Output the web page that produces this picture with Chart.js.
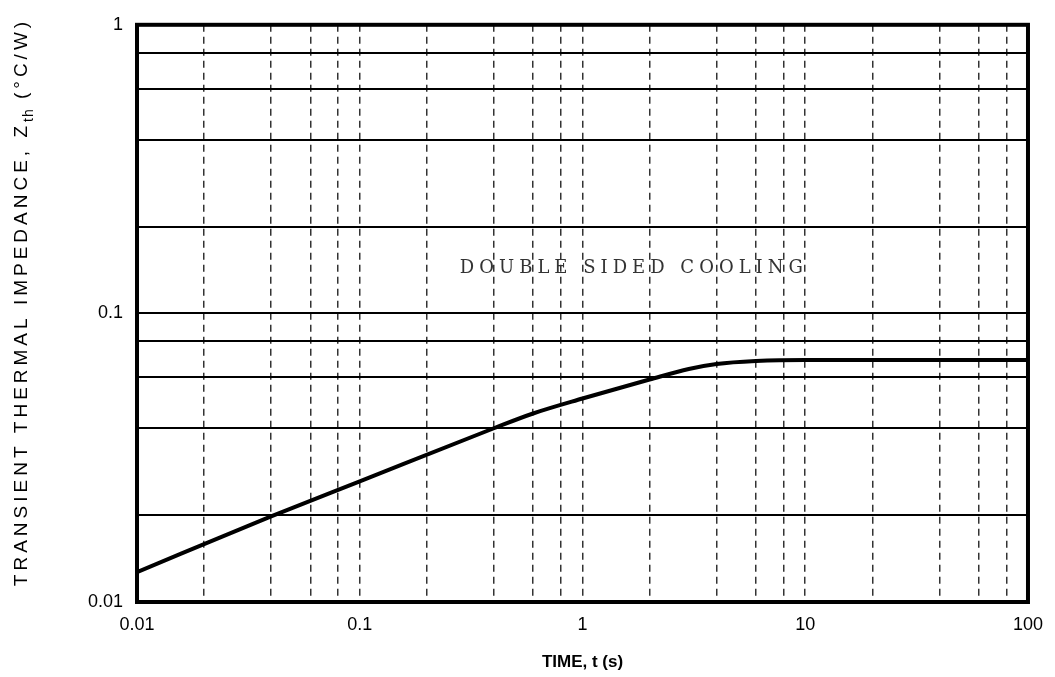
<!DOCTYPE html>
<html>
<head>
<meta charset="utf-8">
<script src="https://cdn.jsdelivr.net/npm/chart.js@4/dist/chart.umd.min.js"></script>
<style>
  html, body { margin: 0; padding: 0; background: #fff; }
  #wrap { width: 1055px; height: 677px; }
</style>
</head>
<body>
<div id="wrap"><canvas id="zth_chart"></canvas></div>
<script>
// time (s) and transient thermal impedance (°C/W)
const times = [0.01, 0.04, 0.1, 0.4, 0.6, 1, 2, 3, 4, 6, 10, 20, 100];
const zth = [0.0127, 0.0198, 0.0262, 0.0400, 0.0450, 0.0507, 0.0590, 0.0642, 0.0668, 0.0684, 0.0690, 0.0690, 0.0690];

// grid positions and labelled ticks
const x_grid = [0.01, 0.02, 0.04, 0.06, 0.08, 0.1, 0.2, 0.4, 0.6, 0.8, 1, 2, 4, 6, 8, 10, 20, 40, 60, 80, 100];
const y_grid = [0.01, 0.02, 0.04, 0.06, 0.08, 0.1, 0.2, 0.4, 0.6, 0.8, 1];
const x_labels = { 0.01: "0.01", 0.1: "0.1", 1: "1", 10: "10", 100: "100" };
const y_labels = { 0.01: "0.01", 0.1: "0.1", 1: "1" };

const note_text = "DOUBLE SIDED COOLING";
const note_pos = { x: 1.7, y: 0.143 };

const frame_plugin = {
    id: "frame",
    afterDraw(chart) {
        const ctx = chart.ctx;
        const a = chart.chartArea;
        ctx.save();
        ctx.strokeStyle = "#000";
        ctx.lineWidth = 4;
        ctx.strokeRect(a.left, a.top, a.right - a.left, a.bottom - a.top);

        // note inside the plot
        const xs = chart.scales.x, ys = chart.scales.y;
        ctx.fillStyle = "#333";
        ctx.font = "18px 'DejaVu Serif', serif";
        ctx.letterSpacing = "5px";
        ctx.textAlign = "center";
        ctx.textBaseline = "middle";
        ctx.fillText(note_text, xs.getPixelForValue(note_pos.x), ys.getPixelForValue(note_pos.y));

        // y axis title with subscript
        ctx.translate(22, 302);
        ctx.rotate(-Math.PI / 2);
        ctx.fillStyle = "#000";
        ctx.textAlign = "left";
        const big = "19px 'Liberation Sans', Arial, sans-serif";
        const small = "14px 'Liberation Sans', Arial, sans-serif";
        const p1 = "TRANSIENT THERMAL IMPEDANCE, Z", p2 = "th", p3 = " (°C/W)";
        ctx.letterSpacing = "4px";
        ctx.font = big;
        const w1 = ctx.measureText(p1).width, w3 = ctx.measureText(p3).width;
        ctx.letterSpacing = "1px";
        ctx.font = small;
        const w2 = ctx.measureText(p2).width;
        let x0 = -(w1 + w2 + w3) / 2;
        ctx.fillText(p2, x0 + w1, 7);
        ctx.letterSpacing = "4px";
        ctx.font = big;
        ctx.fillText(p1, x0, 0);
        ctx.fillText(p3, x0 + w1 + w2, 0);
        ctx.restore();
    },
};

const zth_config = {
    type: "line",
    data: {
        datasets: [
            {
                data: times.map((t, i) => ({ x: t, y: zth[i] })),
                borderColor: "#000",
                borderWidth: 4,
                pointRadius: 0,
                cubicInterpolationMode: "monotone",
                fill: false,
            },
        ],
    },
    options: {
        responsive: true,
        maintainAspectRatio: false,
        animation: false,
        layout: { padding: { top: 23, right: 24, left: 0, bottom: 0 } },
        plugins: { legend: { display: false }, tooltip: { enabled: false } },
        scales: {
            x: {
                type: "logarithmic",
                min: 0.01,
                max: 100,
                afterBuildTicks: (s) => { s.ticks = x_grid.map((v) => ({ value: v })); },
                afterFit: (s) => { s.height = 75; },
                ticks: {
                    autoSkip: false,
                    maxRotation: 0,
                    padding: 12,
                    color: "#000",
                    font: { family: "'Liberation Sans', Arial, sans-serif", size: 18 },
                    callback: (v) => x_labels[v] || "",
                },
                grid: { color: "#333", lineWidth: 1.5, drawTicks: false },
                border: { display: false, dash: [7, 5] },
                title: {
                    display: true,
                    text: "TIME, t (s)",
                    color: "#000",
                    font: { family: "'Liberation Sans', Arial, sans-serif", size: 17, weight: "bold" },
                    padding: { top: 4 },
                },
            },
            y: {
                type: "logarithmic",
                min: 0.01,
                max: 1,
                afterBuildTicks: (s) => { s.ticks = y_grid.map((v) => ({ value: v })); },
                afterFit: (s) => { s.width = 137; },
                ticks: {
                    autoSkip: false,
                    padding: 14,
                    color: "#000",
                    font: { family: "'Liberation Sans', Arial, sans-serif", size: 18 },
                    callback: (v) => y_labels[v] || "",
                },
                grid: { color: "#000", lineWidth: 2, drawTicks: false },
                border: { display: false },
            },
        },
    },
    plugins: [frame_plugin],
};

const zth_chart = new Chart(document.getElementById("zth_chart"), zth_config);
</script>
</body>
</html>
